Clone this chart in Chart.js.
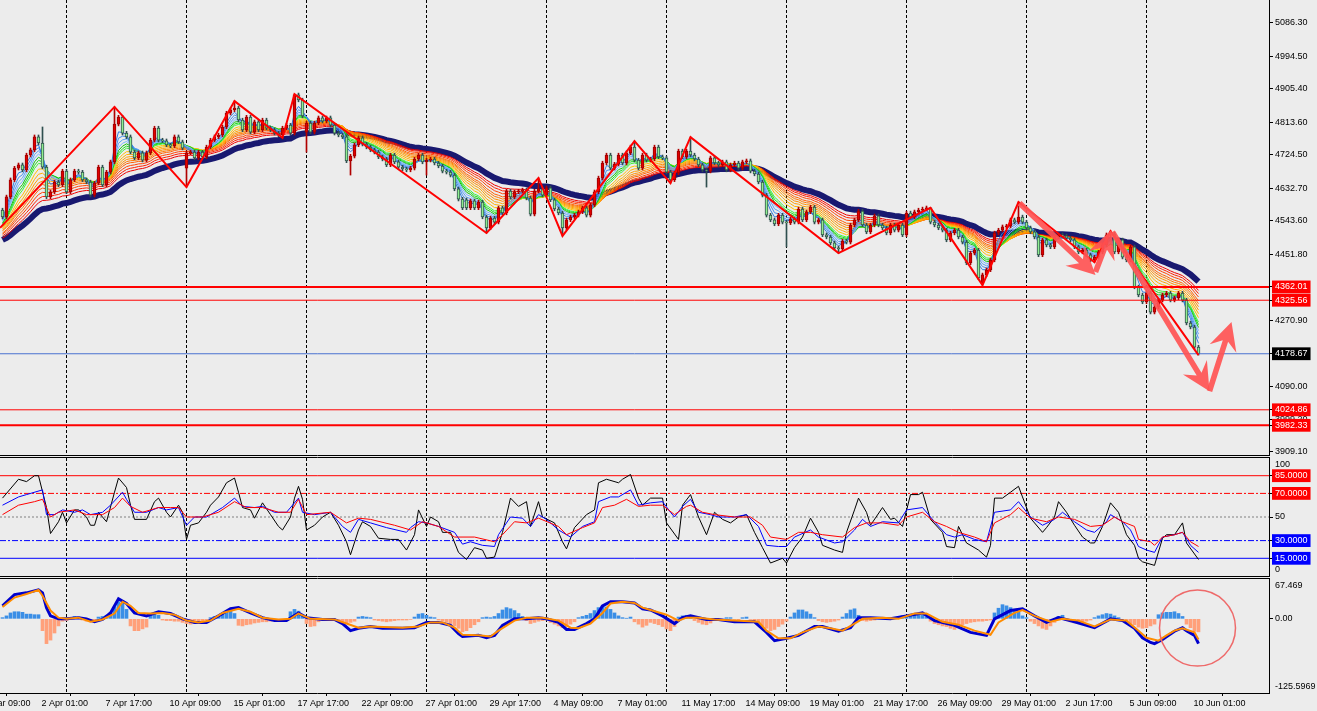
<!DOCTYPE html>
<html>
<head>
<meta charset="utf-8">
<script src="https://cdn.jsdelivr.net/npm/chart.js@4.4.1/dist/chart.umd.min.js"></script>
<style>
  html, body { margin: 0; padding: 0; background: #ececec; }
  #wrap { position: relative; width: 1317px; height: 711px; overflow: hidden; background: #ececec; }
  canvas { position: absolute; left: 0; display: block; }
</style>
</head>
<body>
<div id="wrap">
  <canvas id="mainChart" width="1317" height="456" style="top:0"></canvas>
  <canvas id="oscChart" width="1317" height="120" style="top:457px"></canvas>
  <canvas id="macdChart" width="1317" height="133" style="top:578px"></canvas>
</div>
<script>
// ---- price bars (H4) ----
const closes = [
  4554,4609,4656,4688,4697,4683,4724,4738,4774,4757,
  4691,4609,4623,4650,4642,4680,4623,4656,4680,4677,
  4656,4650,4614,4647,4691,4642,4677,4705,4809,4828,
  4784,4774,4732,4716,4730,4710,4730,4765,4798,4765,
  4763,4752,4749,4774,4760,4743,4730,4732,4716,4732,
  4719,4746,4765,4774,4779,4801,4839,4848,4853,4820,
  4793,4828,4787,4815,4793,4820,4798,4793,4784,4779,
  4798,4806,4784,4889,4875,4831,4812,4787,4812,4826,
  4817,4826,4806,4784,4779,4774,4708,4721,4752,4771,
  4754,4746,4738,4732,4719,4713,4697,4724,4705,4691,
  4686,4683,4688,4713,4724,4705,4710,4713,4702,4694,
  4680,4677,4669,4631,4603,4579,4579,4598,4579,4595,
  4554,4524,4551,4540,4579,4565,4625,4609,4623,4625,
  4628,4606,4562,4625,4631,4614,4634,4601,4576,4565,
  4524,4546,4554,4559,4568,4579,4559,4587,4623,4661,
  4702,4724,4688,4699,4724,4702,4730,4746,4710,4688,
  4724,4710,4713,4746,4719,4716,4677,4656,4675,4735,
  4719,4735,4724,4713,4697,4683,4680,4716,4702,4697,
  4705,4683,4697,4702,4688,4705,4708,4680,4672,4650,
  4614,4559,4546,4535,4559,4540,4538,4548,4540,4576,
  4546,4568,4581,4540,4546,4505,4499,4483,4469,4466,
  4488,4485,4532,4546,4570,4532,4513,4532,4557,4532,
  4524,4510,4532,4518,4532,4505,4565,4554,4568,4573,
  4576,4579,4540,4532,4524,4518,4491,4510,4518,4499,
  4485,4428,4455,4463,4387,4395,4409,4436,4510,4518,
  4527,4529,4546,4540,4554,4540,4524,4513,4499,4450,
  4491,4477,4472,4499,4505,4502,4496,4491,4472,4458,
  4463,4450,4436,4444,4458,4477,4505,4507,4458,4491,
  4444,4436,4472,4362,4340,4321,4345,4293,4307,4326,
  4340,4345,4326,4332,4345,4326,4263,4252,4197,4178.67
];
// bars open at the previous close, except where the picture shows a gap
const gapOpens = {0: 4573, 46: 4688, 76: 4787, 116: 4601, 245: 4373};
const wickHighs = {10: 4801, 28: 4856, 58: 4872, 73: 4891, 134: 4661, 158: 4762, 172: 4773, 232: 4579, 254: 4595, 277: 4515};
const wickLows = {46: 4636, 70: 4771, 76: 4732, 87: 4669, 106: 4669, 121: 4510, 140: 4502, 167: 4647, 176: 4636,
                  196: 4472, 209: 4455, 245: 4367, 273: 4430, 299: 4175};
const wickStub = 5;

// moving average ribbon (values at the first bar)
const ribbonPeriods = [3, 4, 5, 6, 7, 8, 9, 11, 13, 15, 17, 19, 21, 24, 27, 30];
const ribbonSeeds = [4551, 4548, 4546, 4543, 4538, 4535, 4532, 4527, 4524, 4521, 4518, 4516, 4510, 4507, 4502, 4496];
const slowPeriod = 40;
const slowSeed = 4491;

// zigzag pivots
const zigzagBars = [-0.6, 28, 46, 58, 70, 73, 121, 134, 140, 158, 167, 172, 209, 232, 245, 254, 273, 277, 299];
const zigzagPrices = [4524, 4856, 4636, 4872, 4771, 4891, 4510, 4661, 4502, 4762, 4647, 4773, 4455, 4579, 4367, 4595, 4430, 4515, 4175];

// horizontal levels and price axis
const levelPrices = [4362.01, 4325.56, 4024.86, 3982.33];
const thickLevels = [4362.01, 3982.33];
const bidPrice = 4178.67;
const priceTicks = [5086.30, 4994.50, 4905.40, 4813.60, 4724.50, 4632.70, 4543.60, 4451.80, 4270.90, 4090.00, 3999.20, 3909.10];
const priceTop = 5149.41;
const priceBottom = 3900.83;

// hand drawn arrows [bar, price]
const arrowFrom = [[254.25, 4592], [273.25, 4403], [277.5, 4513], [301.75, 4076]];
const arrowTo = [[273.25, 4395], [277.25, 4518], [301.75, 4076], [307.25, 4266]];

// oscillator pane [bar, value]
const oscLevels = [85, 70, 50, 30, 15];
const stochMain = [[0,66],[4,82],[6,80],[8,85],[9,85],[11,58],[12,36],[14,46],[15,54],[16,45],[18,56],[19,56],[21,50],[22,43],[23,43],[24,54],[26,46],[28,71],[29,83],[31,75],[32,60],[33,48],[36,48],[38,63],[39,66],[41,54],[42,50],[44,60],[45,54],[46,31],[47,43],[49,45],[51,54],[52,60],[54,67],[56,79],[58,83],[59,71],[60,58],[62,56],[63,49],[65,62],[67,52],[69,42],[70,39],[72,50],[73,66],[74,76],[75,65],[76,39],[78,43],[80,50],[82,54],[84,43],[86,29],[87,18],[89,39],[90,46],[92,42],[94,32],[97,31],[99,31],[101,22],[103,35],[104,56],[106,42],[107,50],[109,46],[110,37],[112,37],[114,20],[116,14],[118,24],[120,22],[121,15],[123,16],[125,37],[127,66],[129,59],[131,63],[132,42],[134,63],[135,50],[138,45],[140,29],[141,23],[143,41],[146,52],[148,56],[149,79],[151,82],[154,79],[155,82],[157,86],[159,66],[160,60],[162,66],[165,66],[166,45],[169,31],[170,60],[172,69],[174,50],[176,35],[178,54],[180,48],[182,45],[184,50],[186,52],[188,37],[190,24],[192,11],[195,15],[196,11],[198,24],[200,33],[202,49],[204,37],[205,26],[208,22],[210,20],[211,37],[213,56],[214,66],[216,54],[217,43],[220,58],[222,48],[223,49],[225,42],[227,69],[229,69],[230,71],[232,48],[235,37],[236,25],[238,24],[239,42],[241,28],[244,22],[246,16],[247,26],[248,66],[250,66],[252,71],[254,76],[255,67],[257,49],[260,37],[261,41],[263,50],[264,63],[266,54],[268,43],[270,33],[272,28],[273,28],[275,42],[277,62],[279,54],[281,35],[283,26],[284,15],[285,12],[288,9],[290,32],[291,35],[293,35],[295,45],[296,28],[299,14]];
const stochSignal = [[0,60],[4,67],[6,69],[10,73],[11,52],[13,52],[15,56],[18,54],[20,56],[22,52],[25,54],[27,60],[30,71],[31,65],[33,54],[36,54],[39,58],[41,56],[44,58],[46,43],[48,50],[51,50],[55,58],[58,66],[60,59],[63,58],[65,59],[68,54],[71,54],[74,66],[75,54],[78,52],[82,54],[85,42],[87,37],[89,48],[92,45],[96,41],[101,37],[102,41],[104,46],[106,45],[109,42],[113,37],[115,27],[117,29],[120,26],[123,25],[124,35],[127,50],[130,49],[132,42],[134,52],[136,48],[139,39],[142,33],[145,42],[148,46],[149,63],[152,67],[154,67],[157,73],[159,60],[162,62],[165,63],[167,54],[168,50],[170,59],[172,65],[174,54],[177,52],[179,50],[183,50],[186,52],[189,42],[191,26],[194,25],[196,25],[198,33],[202,39],[204,33],[208,28],[210,29],[213,39],[215,48],[217,42],[220,46],[224,45],[226,56],[230,58],[233,46],[236,35],[238,33],[240,35],[243,31],[246,29],[248,54],[252,56],[254,63],[257,50],[260,43],[263,48],[265,54],[268,46],[271,39],[273,37],[276,46],[277,52],[280,46],[282,39],[284,25],[286,22],[288,20],[290,33],[293,35],[295,37],[297,26],[299,20]];
const stochSlow = [[0,52],[4,60],[8,63],[10,65],[12,50],[14,54],[18,56],[21,52],[25,52],[28,58],[30,66],[32,59],[35,54],[39,58],[42,58],[44,58],[46,50],[50,50],[54,54],[58,63],[61,58],[65,58],[69,54],[72,54],[74,65],[76,52],[82,54],[86,45],[89,49],[92,48],[98,43],[102,39],[105,46],[109,42],[113,33],[118,33],[123,29],[125,35],[128,46],[131,45],[134,49],[139,42],[141,35],[145,41],[148,45],[150,58],[153,60],[156,65],[159,59],[162,60],[165,60],[168,52],[171,59],[172,60],[175,54],[178,52],[183,50],[187,50],[190,43],[192,33],[196,31],[199,37],[202,37],[205,35],[210,33],[213,41],[216,45],[220,45],[224,43],[226,50],[230,54],[233,46],[236,42],[239,37],[243,33],[246,29],[248,45],[252,52],[254,58],[257,49],[261,46],[264,50],[268,48],[272,42],[275,43],[278,50],[280,46],[283,42],[284,31],[287,29],[288,26],[290,33],[293,35],[295,37],[297,29],[299,25]];

// MACD pane
const macdTop = 67.469;
const macdBottom = -125.5969;
const macdMain = [[0,22],[3,41],[6,44],[9,49],[10,44],[11,19],[12,5],[14,0],[16,0],[19,2],[21,0],[23,-5],[25,-1],[27,10],[29,34],[31,26],[33,10],[36,5],[39,12],[42,9],[45,0],[48,-6],[51,-6],[54,5],[57,17],[59,19],[62,10],[65,2],[68,-3],[71,-3],[74,10],[76,2],[80,-1],[83,-1],[85,-8],[87,-20],[89,-16],[92,-13],[95,-16],[100,-16],[103,-15],[106,-6],[109,-6],[112,-11],[114,-25],[115,-30],[119,-28],[121,-32],[123,-28],[125,-11],[128,0],[131,0],[134,2],[136,0],[139,-6],[141,-18],[143,-18],[146,-8],[148,0],[150,22],[152,29],[155,29],[158,27],[160,17],[162,15],[165,5],[168,-8],[170,2],[172,5],[176,-1],[179,-1],[183,-5],[188,-5],[191,-23],[193,-37],[196,-33],[199,-28],[203,-13],[205,-13],[209,-21],[212,-15],[214,2],[217,2],[222,0],[226,5],[230,10],[233,-3],[238,-11],[242,-23],[246,-28],[248,0],[252,14],[255,17],[258,5],[261,-6],[264,2],[268,-5],[273,-15],[277,0],[280,-3],[283,-16],[285,-32],[287,-40],[288,-42],[290,-35],[293,-21],[295,-15],[296,-20],[298,-28],[299,-42]];
const macdSignal = [[0,20],[3,36],[6,42],[9,49],[10,39],[12,14],[14,2],[16,0],[19,2],[22,-5],[25,-1],[28,9],[30,29],[32,22],[34,10],[37,9],[40,10],[43,7],[46,-3],[49,-6],[52,-3],[55,10],[59,17],[62,12],[65,2],[69,-1],[72,0],[74,9],[77,0],[83,-1],[86,-8],[89,-15],[92,-13],[100,-15],[104,-13],[107,-6],[110,-6],[113,-15],[115,-27],[119,-28],[122,-30],[124,-20],[128,-3],[131,2],[135,2],[139,-3],[142,-15],[144,-16],[147,-8],[150,10],[152,26],[155,29],[158,27],[160,19],[162,15],[166,7],[169,-3],[171,2],[174,2],[178,-1],[183,-3],[189,-5],[191,-20],[194,-33],[197,-33],[200,-23],[204,-13],[207,-16],[210,-20],[213,-8],[215,0],[220,2],[224,0],[228,9],[231,9],[235,-5],[239,-10],[243,-20],[247,-27],[249,-6],[253,10],[255,15],[258,5],[262,-5],[265,0],[269,-3],[273,-13],[277,-1],[281,-3],[284,-20],[286,-32],[289,-37],[291,-28],[293,-20],[295,-16],[298,-23],[299,-35]];
const macdHist = [
  2,5,10,12,12,11,8,8,7,7,
  -20,-42,-36,-24,-12,-4,
  -3,2,4,3,-2,-4,-5,-3,
  3,4,6,10,20,29,26,16,
  -12,-20,-20,-17,-14,
  8,10,6,
  -2,-3,-3,-4,-4,-6,-8,-9,-8,-6,-4,-2,
  2,4,6,9,13,15,9,
  -11,-12,-10,-9,-7,-6,-5,-5,-4,-3,-3,
  -2,-2,12,16,13,6,
  -8,-13,-12,
  -5,-3,-3,-2,-3,
  -5,-6,-8,-6,-4,
  3,4,3,2,
  -2,-3,-4,-5,-4,-3,-2,-2,-2,-1,
  3,8,9,6,3,2,
  -2,-4,-6,-8,-12,-16,-22,-20,-15,-10,-5,
  2,3,2,
  4,9,15,19,17,14,9,4,
  -3,-8,-6,-4,-3,-2,
  -6,-9,-12,-15,-13,-9,-5,
  2,4,6,9,14,19,22,20,16,10,5,2,
  1,3,
  -5,-9,-14,-11,
  -6,-8,-10,-13,-17,-20,-13,
  3,5,6,4,
  -3,-6,-9,-10,-7,-3,
  -2,-1,2,2,-1,-2,2,3,-1,
  -4,-8,-12,-16,-20,-18,-13,-9,-4,
  3,10,15,15,12,8,2,
  -3,-5,-6,-5,-4,-2,
  3,9,15,17,6,
  -3,-4,-3,-2,2,2,1,1,
  2,4,5,6,6,7,8,6,3,
  -4,-8,-10,-12,-13,-16,-18,-14,
  -10,-8,-6,-5,-4,-4,-3,-2,
  10,18,24,22,19,15,11,5,2,
  -4,-8,-12,-16,-18,-12,-6,
  4,6,
  -3,-5,-7,-8,-6,-4,-2,
  2,5,7,9,8,5,2,
  -2,-5,-8,-10,-14,-16,-15,-12,-9,
  7,10,11,11,12,9,4,
  -9,-15,-21,-22
];
const circleCenter = [298.75, -15.6];

// time axis
const timeBars = [-7, 9, 25, 41, 57, 73, 89, 105, 121, 137, 153, 169, 185, 201, 217, 233, 249, 265, 281, 297];
const timeLabels = ['31 Mar 09:00', '2 Apr 01:00', '7 Apr 17:00', '10 Apr 09:00', '15 Apr 01:00', '17 Apr 17:00',
  '22 Apr 09:00', '27 Apr 01:00', '29 Apr 17:00', '4 May 09:00', '7 May 01:00', '11 May 17:00', '14 May 09:00',
  '19 May 01:00', '21 May 17:00', '26 May 09:00', '29 May 01:00', '2 Jun 17:00', '5 Jun 09:00', '10 Jun 01:00'];
const gridBars = [16, 46, 76, 106, 136, 166, 196, 226, 256, 286];

// ---- styles ----
const ribbonColors = ['#2f7fe0', '#3f8ff0', '#5a9ff5', '#78b4ff', '#10c010', '#20dd20', '#40f040',
  '#ffc000', '#ffb000', '#ffa000', '#ff9000', '#ff7800', '#ff6000', '#ff4000', '#ff2000', '#ee0000'];
const axisFont = { family: 'Liberation Sans', size: 9 };
const xMin = -0.625, xMax = 316.625;

Chart.defaults.font.family = 'Liberation Sans';
Chart.defaults.font.size = 9;
Chart.defaults.color = '#000';

function ema(values, period, seed) {
  const k = 2 / (period + 1);
  let v = seed;
  return values.map((c, i) => (v = i === 0 ? seed : v + (c - v) * k));
}

function lineSet(points, color, width, dash) {
  return {
    type: 'line',
    data: points.map(p => ({ x: p[0], y: p[1] })),
    borderColor: color,
    borderWidth: width,
    borderDash: dash || [],
    pointRadius: 0,
    tension: 0,
    fill: false
  };
}

function hLine(value, color, width, dash) {
  return lineSet([[xMin, value], [xMax, value]], color, width, dash);
}

function drawArrow(ctx, x1, y1, x2, y2) {
  const ang = Math.atan2(y2 - y1, x2 - x1);
  const len = Math.hypot(x2 - x1, y2 - y1);
  const headL = 28, headW = 14, shaft = 2.8, notch = 8;
  ctx.save();
  ctx.translate(x1, y1);
  ctx.rotate(ang);
  ctx.beginPath();
  ctx.moveTo(0, -shaft);
  ctx.lineTo(len - headL + notch, -shaft);
  ctx.lineTo(len - headL, -headW);
  ctx.lineTo(len, 0);
  ctx.lineTo(len - headL, headW);
  ctx.lineTo(len - headL + notch, shaft);
  ctx.lineTo(0, shaft);
  ctx.closePath();
  ctx.fill();
  ctx.restore();
}

// frame lines, period separators and clamped edge labels of each pane
const paneFrame = {
  id: 'paneFrame',
  beforeDatasetsDraw(chart) {
    const { ctx, chartArea: a, scales } = chart;
    ctx.save();
    ctx.strokeStyle = '#000';
    ctx.lineWidth = 1;
    ctx.setLineDash([3, 2]);
    gridBars.forEach(b => {
      const x = Math.round(scales.x.getPixelForValue(b) - 0.5) + 0.5;
      ctx.beginPath();
      ctx.moveTo(x, a.top);
      ctx.lineTo(x, a.bottom);
      ctx.stroke();
    });
    ctx.restore();
  },
  afterDraw(chart, args, opts) {
    const { ctx, chartArea: a, height } = chart;
    ctx.save();
    ctx.strokeStyle = '#000';
    ctx.lineWidth = 1;
    if (opts.top) {
      ctx.beginPath(); ctx.moveTo(0, 0.5); ctx.lineTo(a.right + 1, 0.5); ctx.stroke();
    }
    if (opts.bottom) {
      ctx.beginPath(); ctx.moveTo(0, height - 0.5); ctx.lineTo(a.right + 1, height - 0.5); ctx.stroke();
    }
    ctx.fillStyle = '#000';
    ctx.font = '9px "Liberation Sans"';
    ctx.textAlign = 'left';
    ctx.textBaseline = 'middle';
    const x = chart.scales.y.left + 6;
    if (opts.topLabel) ctx.fillText(opts.topLabel, x, a.top + 7);
    if (opts.bottomLabel) ctx.fillText(opts.bottomLabel, x, a.bottom - 6);
    ctx.restore();
  }
};

const arrowPlugin = {
  id: 'arrows',
  afterDatasetsDraw(chart) {
    const { ctx, scales: { x, y } } = chart;
    ctx.save();
    ctx.fillStyle = 'rgba(255, 84, 84, 0.92)';
    arrowFrom.forEach((f, i) => {
      const t = arrowTo[i];
      drawArrow(ctx, x.getPixelForValue(f[0]), y.getPixelForValue(f[1]),
                x.getPixelForValue(t[0]), y.getPixelForValue(t[1]));
    });
    ctx.restore();
  }
};

function rightAxis(min, max, tickValues, fmt, labelColor, boxColor) {
  return {
    type: 'linear',
    position: 'right',
    min: min,
    max: max,
    afterBuildTicks: s => { s.ticks = tickValues.map(v => ({ value: v })); },
    afterFit: s => { s.width = 48; s.paddingTop = 0; s.paddingBottom = 0; },
    grid: { drawOnChartArea: false, drawTicks: true, tickLength: 4, color: '#000' },
    border: { display: true, color: '#000', width: 1 },
    ticks: {
      autoSkip: false,
      padding: 2,
      font: axisFont,
      callback: fmt,
      color: c => (c.tick ? labelColor(c.tick.value) : '#000'),
      showLabelBackdrop: true,
      backdropColor: c => (c.tick ? boxColor(c.tick.value) : 'rgba(0,0,0,0)'),
      backdropPadding: { top: 1, bottom: 1, left: 3, right: 3 }
    }
  };
}

const hiddenX = { type: 'linear', min: xMin, max: xMax, display: false, offset: false };
const quiet = { legend: { display: false }, tooltip: { enabled: false } };

// ---- main pane ----
const opens = closes.map((c, i) => (gapOpens[i] !== undefined ? gapOpens[i] : (i ? closes[i - 1] : c)));
const bull = closes.map((c, i) => c >= opens[i]);
const bodies = closes.map((c, i) => ({ x: i, y: [Math.min(opens[i], c), Math.max(opens[i], c)] }));
const wicks = closes.map((c, i) => ({
  x: i,
  y: [wickLows[i] !== undefined ? wickLows[i] : Math.min(opens[i], c) - wickStub,
      wickHighs[i] !== undefined ? wickHighs[i] : Math.max(opens[i], c) + wickStub]
}));

const mainSets = [];
mainSets.push(lineSet(zigzagBars.map((b, i) => [b, zigzagPrices[i]]), '#ff0000', 2));
levelPrices.forEach(v => mainSets.push(hLine(v, '#ff0000', thickLevels.includes(v) ? 2 : 1)));
mainSets.push(hLine(bidPrice, '#4a72d0', 1));
mainSets.push({
  type: 'bar', data: bodies, grouped: false, barThickness: 3, minBarLength: 1,
  backgroundColor: bull.map(b => (b ? '#e00000' : '#90ee90')),
  borderColor: bull.map(b => (b ? '#9a0000' : '#2f4f4f')),
  borderWidth: 1, borderSkipped: false
});
mainSets.push({
  type: 'bar', data: wicks, grouped: false, barThickness: 1,
  backgroundColor: bull.map(b => (b ? '#b00000' : '#2f4f4f')), borderWidth: 0
});
ribbonPeriods.forEach((p, k) => {
  mainSets.push(lineSet(ema(closes, p, ribbonSeeds[k]).map((v, i) => [i, v]), ribbonColors[k], 1));
});
mainSets.push(lineSet(ema(closes, slowPeriod, slowSeed).map((v, i) => [i, v]), '#191970', 6));

new Chart(document.getElementById('mainChart'), {
  type: 'line',
  data: { datasets: mainSets },
  options: {
    responsive: false, animation: false, events: [],
    layout: { autoPadding: false, padding: { top: 0, bottom: 1, left: 0, right: 0 } },
    plugins: Object.assign({ paneFrame: { bottom: true } }, quiet),
    scales: {
      x: hiddenX,
      y: rightAxis(priceBottom, priceTop, priceTicks.concat(levelPrices, [bidPrice]),
        v => v.toFixed(2),
        v => (levelPrices.includes(v) || v === bidPrice ? '#fff' : '#000'),
        v => (levelPrices.includes(v) ? '#ff0000' : v === bidPrice ? '#000' : 'rgba(0,0,0,0)'))
    }
  },
  plugins: [paneFrame, arrowPlugin]
});

// ---- oscillator pane ----
const oscSets = [
  lineSet(stochSlow, '#ff0000', 1),
  lineSet(stochSignal, '#0000ff', 1),
  lineSet(stochMain, '#000000', 1),
  hLine(85, '#ff0000', 1),
  hLine(70, '#ff0000', 1, [6, 2, 2, 2]),
  hLine(50, '#808080', 1, [2, 2]),
  hLine(30, '#0000ff', 1, [6, 2, 2, 2]),
  hLine(15, '#0000ff', 1)
];

new Chart(document.getElementById('oscChart'), {
  type: 'line',
  data: { datasets: oscSets },
  options: {
    responsive: false, animation: false, events: [],
    layout: { autoPadding: false, padding: { top: 1, bottom: 1, left: 0, right: 0 } },
    plugins: Object.assign({ paneFrame: { top: true, bottom: true, topLabel: '100', bottomLabel: '0' } }, quiet),
    scales: {
      x: hiddenX,
      y: rightAxis(0, 100, oscLevels,
        v => (v === 50 ? '50' : v.toFixed(4)),
        v => (v === 50 ? '#000' : '#fff'),
        v => (v >= 70 ? '#ff0000' : v <= 30 ? '#0000ff' : 'rgba(0,0,0,0)'))
    }
  },
  plugins: [paneFrame]
});

// ---- MACD pane ----
const macdSets = [
  {
    type: 'bubble',
    data: [{ x: circleCenter[0], y: circleCenter[1], r: 38 }],
    backgroundColor: 'rgba(0,0,0,0)', borderColor: '#ee6a6a', borderWidth: 1.5
  },
  lineSet(macdSignal, '#ff8c00', 2),
  lineSet(macdMain, '#0000cd', 3),
  {
    type: 'bar',
    data: macdHist.map((v, i) => ({ x: i, y: v })),
    grouped: false, barThickness: 3,
    backgroundColor: macdHist.map(v => (v >= 0 ? '#3a8ee6' : '#ffa07a')),
    borderWidth: 0
  }
];

new Chart(document.getElementById('macdChart'), {
  type: 'line',
  data: { datasets: macdSets },
  options: {
    responsive: false, animation: false, events: [],
    layout: { autoPadding: false, padding: { top: 1, bottom: 0, left: 0, right: 0 } },
    plugins: Object.assign({ paneFrame: { top: true, topLabel: String(macdTop), bottomLabel: String(macdBottom) } }, quiet),
    scales: {
      x: {
        type: 'linear', min: xMin, max: xMax, offset: false, position: 'bottom',
        afterBuildTicks: s => { s.ticks = timeBars.map(v => ({ value: v })); },
        afterFit: s => { s.height = 18; s.paddingLeft = 0; s.paddingRight = 0; },
        grid: { drawOnChartArea: false, drawTicks: true, tickLength: 3, color: '#000' },
        border: { display: true, color: '#000', width: 1 },
        ticks: {
          autoSkip: false, maxRotation: 0, minRotation: 0, align: 'start', labelOffset: 3, padding: 2,
          font: axisFont, color: '#000',
          callback: (v, i) => timeLabels[i]
        }
      },
      y: rightAxis(macdBottom, macdTop, [0],
        v => v.toFixed(2), () => '#000', () => 'rgba(0,0,0,0)')
    }
  },
  plugins: [paneFrame]
});
</script>
</body>
</html>
